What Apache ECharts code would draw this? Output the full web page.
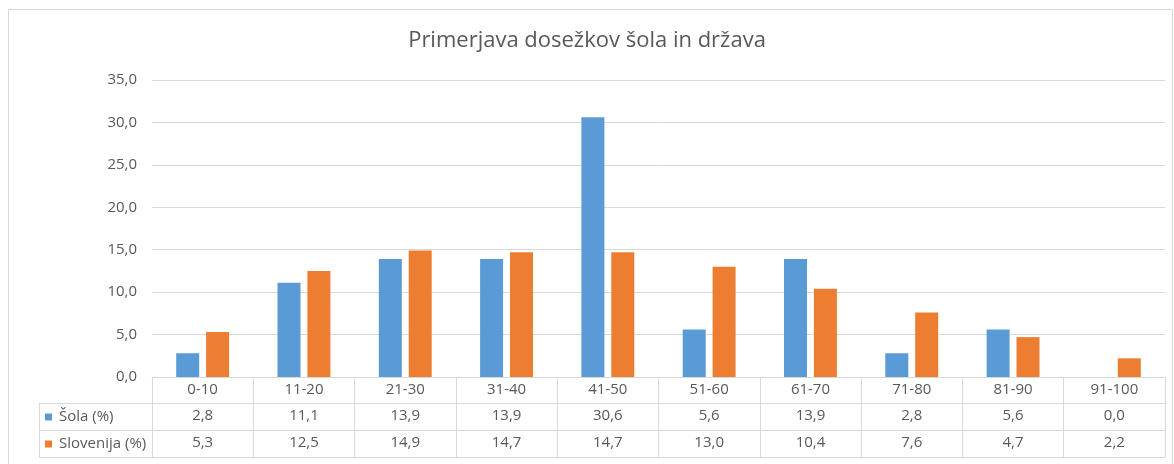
<!DOCTYPE html>
<html>
<head>
  <meta charset="utf-8">
  <title>Primerjava dosežkov</title>
  <script src="https://cdn.jsdelivr.net/npm/echarts@6/dist/echarts.min.js"></script>
  <style>
    html, body { margin: 0; padding: 0; background: #fff; }
    #chart { width: 1174px; height: 464px; }
  </style>
</head>
<body>
  <div id="chart"></div>
  <script>
    var categories = ['0-10', '11-20', '21-30', '31-40', '41-50', '51-60', '61-70', '71-80', '81-90', '91-100'];
    var solaValues = [2.8, 11.1, 13.9, 13.9, 30.6, 5.6, 13.9, 2.8, 5.6, 0.0];
    var sloValues = [5.3, 12.5, 14.9, 14.7, 14.7, 13.0, 10.4, 7.6, 4.7, 2.2];
    var seriesNames = ['Šola (%)', 'Slovenija (%)'];
    var colors = ['#5B9BD5', '#ED7D31'];

    var FONT = '"Open Sans", sans-serif';
    var TXT = '#595959';
    var LINE = '#d9d9d9';

    function fmt(v) {
      return Number(v).toFixed(1).replace('.', ',');
    }

    // table rows below the plot: each row is its own x axis
    function rowAxis(offset, values, showLabel) {
      return {
        type: 'category',
        data: categories,
        position: 'bottom',
        offset: offset,
        axisLine: { show: true, lineStyle: { color: LINE, width: 1 } },
        axisTick: { show: false },
        axisLabel: {
          show: showLabel,
          interval: 0,
          margin: 13,
          verticalAlign: 'middle',
          color: TXT,
          fontFamily: FONT,
          fontSize: 15,
          formatter: function (val, idx) { return fmt(values[idx]); }
        }
      };
    }

    var chart = echarts.init(document.getElementById('chart'), null, { renderer: 'canvas' });

    var gridLeft = 152, gridBottomY = 377;
    var rowTops = [403, 430, 457];

    var graphic = [
      {
        type: 'rect',
        shape: { x: 8.5, y: 9.5, width: 1164, height: 470 },
        style: { fill: 'none', stroke: LINE, lineWidth: 1 },
        silent: true
      },
      {
        type: 'line',
        shape: { x1: 39.5, y1: rowTops[0], x2: 39.5, y2: rowTops[2] + 0.5 },
        style: { stroke: LINE, lineWidth: 1 }
      }
    ];
    rowTops.forEach(function (y) {
      graphic.push({
        type: 'line',
        shape: { x1: 39.5, y1: y + 0.5, x2: gridLeft, y2: y + 0.5 },
        style: { stroke: LINE, lineWidth: 1 }
      });
    });
    seriesNames.forEach(function (name, i) {
      var cy = (rowTops[i] + rowTops[i + 1]) / 2 + 0.5;
      graphic.push({
        type: 'rect',
        shape: { x: 45, y: cy - 3.5, width: 7, height: 7 },
        style: { fill: colors[i] }
      });
      graphic.push({
        type: 'text',
        x: 59, y: cy,
        style: {
          text: name, fill: TXT, font: '15px ' + FONT,
          textVerticalAlign: 'middle', verticalAlign: 'middle'
        }
      });
    });

    var option = {
      animation: false,
      color: colors,
      title: {
        text: 'Primerjava dosežkov šola in država',
        left: 'center',
        top: 25,
        textStyle: { color: TXT, fontFamily: FONT, fontSize: 22, fontWeight: 'normal' }
      },
      grid: { left: gridLeft, right: 9, top: 80, bottom: 464 - gridBottomY },
      xAxis: [
        {
          type: 'category',
          data: categories,
          position: 'bottom',
          axisLine: { show: true, lineStyle: { color: LINE, width: 1 } },
          axisTick: { show: true, alignWithLabel: false, interval: 0, length: 80, lineStyle: { color: LINE } },
          axisLabel: {
            interval: 0, margin: 13, verticalAlign: 'middle',
            color: TXT, fontFamily: FONT, fontSize: 15
          }
        },
        rowAxis(26, solaValues, true),
        rowAxis(53, sloValues, true),
        rowAxis(80, sloValues, false)
      ],
      yAxis: {
        type: 'value',
        min: 0, max: 35, interval: 5,
        axisLine: { show: false },
        axisTick: { show: false },
        splitLine: { lineStyle: { color: LINE, width: 1 } },
        axisLabel: {
          margin: 15, color: TXT, fontFamily: FONT, fontSize: 15,
          formatter: function (v) { return fmt(v); }
        }
      },
      series: [
        { name: seriesNames[0], type: 'bar', data: solaValues, barWidth: 23, barGap: '30%', xAxisIndex: 0 },
        { name: seriesNames[1], type: 'bar', data: sloValues, barWidth: 23, barGap: '30%', xAxisIndex: 0 }
      ],
      graphic: graphic
    };

    chart.setOption(option);
  </script>
</body>
</html>
